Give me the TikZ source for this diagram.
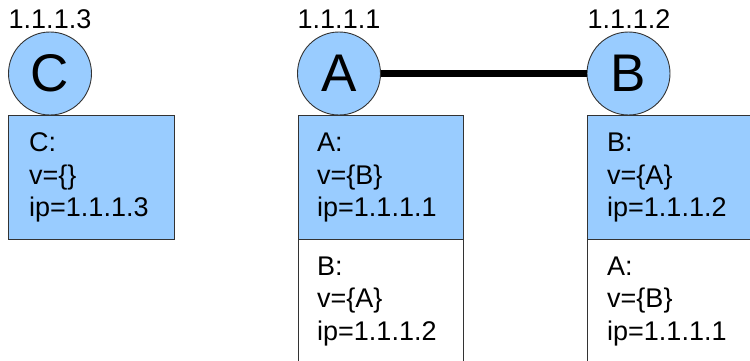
\documentclass[tikz,border=0pt]{standalone}
\usepackage{fontspec}
\setmainfont{Liberation Sans}
\definecolor{nodeblue}{HTML}{99CCFF}
\definecolor{edgegray}{HTML}{333333}
\begin{document}
\begin{tikzpicture}[x=1pt,y=-1pt,
  vert/.style={circle, draw=edgegray, line width=0.9pt, fill=nodeblue, minimum size=83pt, inner sep=0pt, font=\fontsize{53}{60}\selectfont},
  bluebox/.style={rectangle, draw=edgegray, line width=1pt, fill=nodeblue, anchor=north west, inner sep=0pt},
  whitebox/.style={rectangle, draw=edgegray, line width=1pt, fill=white, anchor=north west, inner sep=0pt},
  txt/.style={anchor=base west, inner sep=0pt, font=\fontsize{27}{32}\selectfont},
  iplabel/.style={anchor=base, inner sep=0pt, font=\fontsize{27}{32}\selectfont}]
\useasboundingbox (0,0) rectangle (750,361);
\clip (0,0) rectangle (750,361);
% boxes
\node[bluebox, minimum width=166pt, minimum height=124pt] (cbox) at (8,115) {};
\node[whitebox, minimum width=165pt, minimum height=140pt] (aboxw) at (298,239) {};
\node[bluebox, minimum width=165pt, minimum height=124pt] (abox) at (298,115) {};
\node[whitebox, minimum width=180pt, minimum height=140pt] (bboxw) at (587,239) {};
\node[bluebox, minimum width=180pt, minimum height=124pt] (bbox) at (587,115) {};
% circles
\node[vert] (C) at (50,73.5) {C};
\node[vert] (A) at (339,73.5) {A};
\node[vert] (B) at (628.5,73.5) {B};
\draw[line width=7pt] (A.east) -- (B.west);
% ip labels
\node[iplabel] (lc) at (50,28.3) {1.1.1.3};
\node[iplabel] (la) at (339,28.3) {1.1.1.1};
\node[iplabel] (lb) at (629,28.3) {1.1.1.2};
% C box text
\node[txt] (c1) at (29,151.7) {C:};
\node[txt] (c2) at (29,184.2) {v=\{\}};
\node[txt] (c3) at (29,216.7) {ip=1.1.1.3};
% A box text
\node[txt] (a1) at (317,151.7) {A:};
\node[txt] (a2) at (317,184.2) {v=\{B\}};
\node[txt] (a3) at (317,216.7) {ip=1.1.1.1};
\node[txt] (a4) at (317,275) {B:};
\node[txt] (a5) at (317,307.5) {v=\{A\}};
\node[txt] (a6) at (317,340) {ip=1.1.1.2};
% B box text
\node[txt] (b1) at (607,151.7) {B:};
\node[txt] (b2) at (607,184.2) {v=\{A\}};
\node[txt] (b3) at (607,216.7) {ip=1.1.1.2};
\node[txt] (b4) at (607,275) {A:};
\node[txt] (b5) at (607,307.5) {v=\{B\}};
\node[txt] (b6) at (607,340) {ip=1.1.1.1};
\end{tikzpicture}
\end{document}
